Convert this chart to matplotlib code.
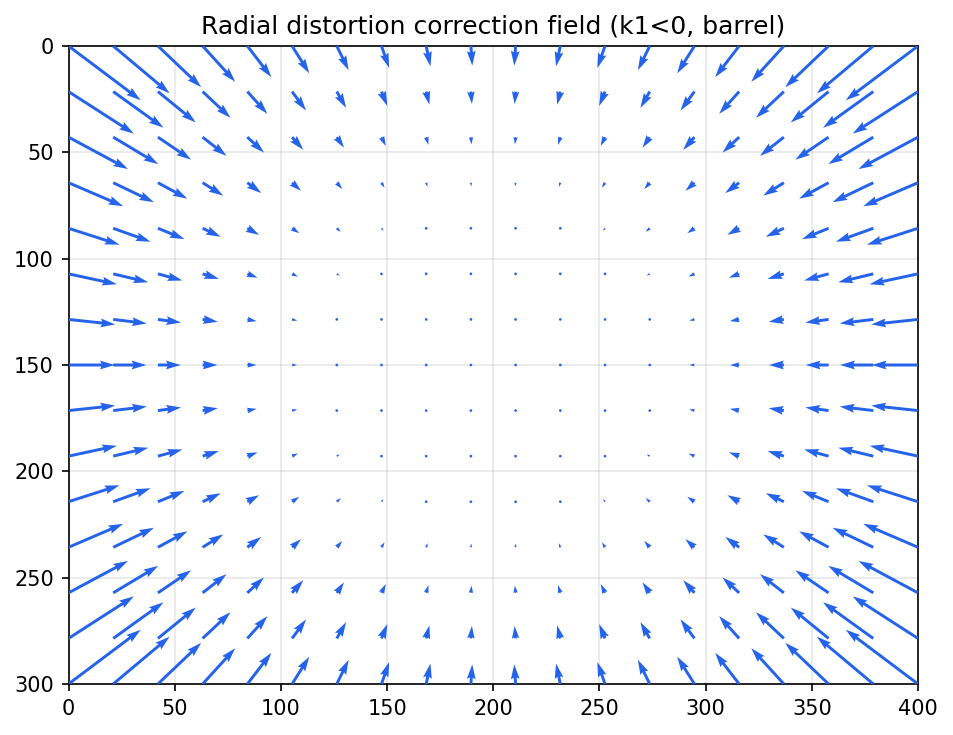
import numpy as np
import matplotlib
matplotlib.use('Agg')
import matplotlib.pyplot as plt

# image size and sampling grid of the field
img_w = 400
img_h = 300
n_cols = 20
n_rows = 15
center = (200.0, 150.0)
# correction at the corner (r=250) is about 17% of the offset, growing with r^2
k1 = -0.17
r_ref = 250.0

xs = np.linspace(0, img_w, n_cols)
ys = np.linspace(0, img_h, n_rows)
X, Y = np.meshgrid(xs, ys)
dx = X - center[0]
dy = Y - center[1]
r2 = (dx**2 + dy**2) / r_ref**2
U = k1 * r2 * dx
V = k1 * r2 * dy

fig = plt.figure(figsize=(953/150, 735/150), dpi=150)
ax = fig.add_axes([68.5/953, 51/735, 849.5/953, 638/735])
ax.grid(True, alpha=0.3, zorder=0)
ax.quiver(X, Y, U, V, angles='xy', scale_units='xy', scale=1,
          color='#2563eb', zorder=3)
ax.set_xlim(0, img_w)
ax.set_ylim(img_h, 0)
ax.set_xticks(np.arange(0, 401, 50))
ax.set_yticks(np.arange(0, 301, 50))
ax.set_title('Radial distortion correction field (k1<0, barrel)', fontsize=12)
fig.savefig('out.png', dpi=150)
